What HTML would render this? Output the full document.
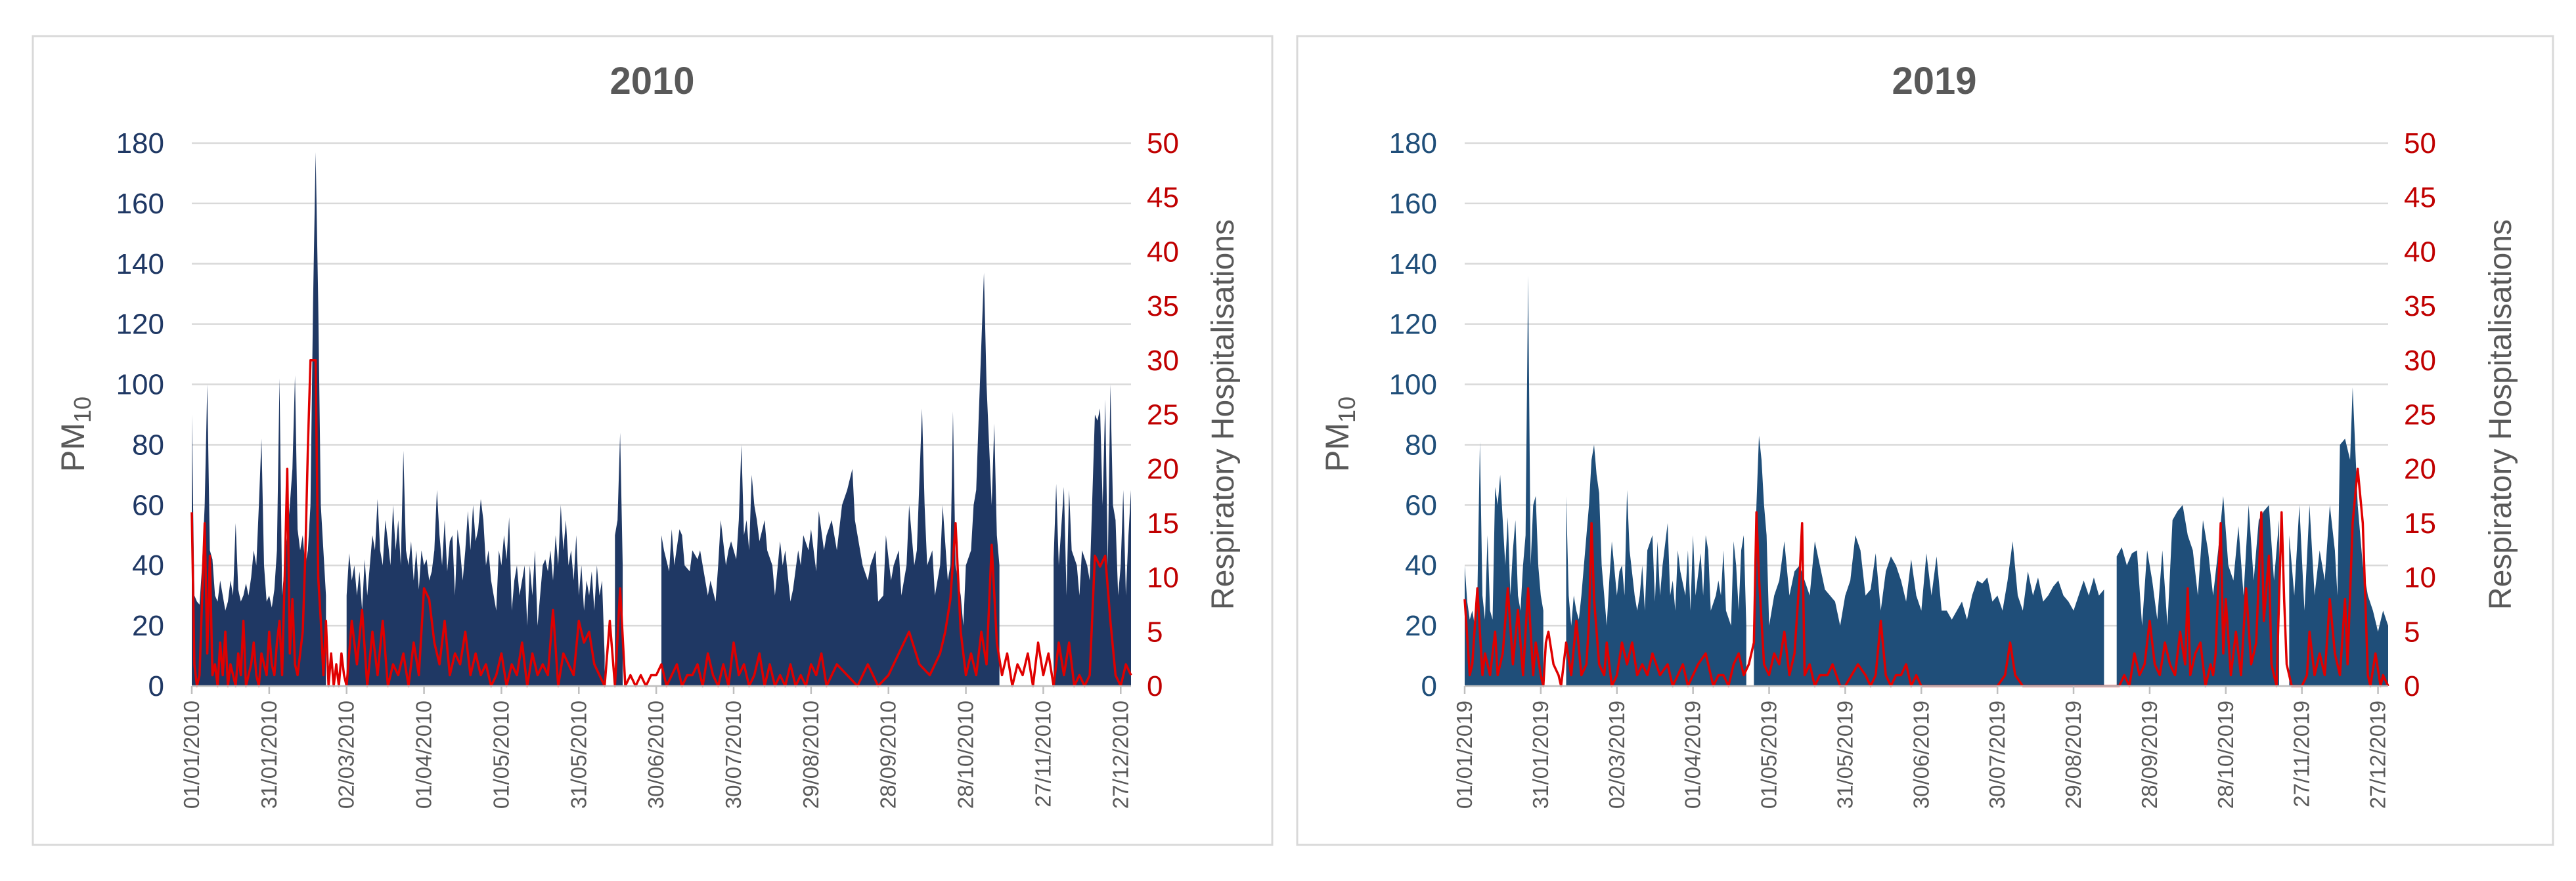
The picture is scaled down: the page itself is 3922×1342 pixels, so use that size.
<!DOCTYPE html>
<html><head><meta charset="utf-8"><style>
html,body{margin:0;padding:0;background:#fff;}
svg{display:block;font-family:"Liberation Sans",sans-serif;}
</style></head><body>
<svg id="s" width="3922" height="1342" viewBox="0 0 3922 1342" xmlns="http://www.w3.org/2000/svg">
<rect x="0" y="0" width="3922" height="1342" fill="#fff"/>
<rect x="50" y="55" width="1887" height="1232" fill="none" stroke="#d9d9d9" stroke-width="3"/>
<rect x="1975" y="55" width="1912" height="1232" fill="none" stroke="#d9d9d9" stroke-width="3"/>
<g id="p1"></g>
<g id="p2"></g>
</svg>
<script>
const dateLabels2010 = ["01/01/2010","31/01/2010","02/03/2010","01/04/2010","01/05/2010","31/05/2010","30/06/2010","30/07/2010","29/08/2010","28/09/2010","28/10/2010","27/11/2010","27/12/2010"];
const dateLabels2019 = ["01/01/2019","31/01/2019","02/03/2019","01/04/2019","01/05/2019","31/05/2019","30/06/2019","30/07/2019","29/08/2019","28/09/2019","28/10/2019","27/11/2019","27/12/2019"];
const dateTickDays = [0,30,60,90,120,150,180,210,240,270,300,330,360];
const leftTicks = [0,20,40,60,80,100,120,140,160,180];
const rightTicks = [0,5,10,15,20,25,30,35,40,45,50];

// [day of year, value]; null = missing data
const pm2010 = [[0,90],[1,30],[2,28],[3,27],[4,40],[5,60],[6,100],[7,45],[8,42],[9,30],[10,28],[11,35],[12,30],[13,25],[14,28],[15,35],[16,30],[17,54],[18,32],[19,28],[20,30],[21,34],[22,30],[23,36],[24,45],[25,40],[26,60],[27,82],[28,40],[29,28],[30,30],[31,26],[32,32],[33,45],[34,102],[35,30],[36,40],[37,50],[38,60],[39,72],[40,103],[41,52],[42,45],[43,50],[44,40],[45,45],[46,60],[47,127],[48,177],[49,127],[50,60],[51,45],[52,30],[53,null],[59,null],[60,30],[61,44],[62,35],[63,40],[64,30],[65,38],[66,25],[67,42],[68,30],[69,40],[70,50],[71,45],[72,62],[73,45],[74,40],[75,55],[76,48],[77,40],[78,60],[79,45],[80,55],[81,40],[82,78],[83,45],[84,40],[85,48],[86,35],[87,45],[88,32],[89,45],[90,40],[91,42],[92,35],[93,38],[94,45],[95,65],[96,50],[97,40],[98,55],[99,38],[100,48],[101,50],[102,30],[103,52],[104,45],[105,35],[106,45],[107,58],[108,45],[109,60],[110,48],[111,52],[112,62],[113,55],[114,40],[115,45],[116,35],[117,30],[118,25],[119,45],[120,40],[121,50],[122,42],[123,56],[124,25],[125,35],[126,40],[127,30],[128,35],[129,40],[130,20],[131,40],[132,30],[133,45],[134,20],[135,30],[136,40],[137,42],[138,38],[139,45],[140,35],[141,50],[142,40],[143,60],[144,45],[145,55],[146,40],[147,45],[148,35],[149,50],[150,30],[151,40],[152,25],[153,35],[154,30],[155,38],[156,25],[157,40],[158,30],[159,35],[160,10],[161,null],[163,null],[164,50],[165,55],[166,84],[167,40],[168,null],[181,null],[182,50],[183,45],[185,38],[186,52],[187,40],[189,52],[190,50],[191,40],[193,38],[194,45],[196,42],[197,45],[198,40],[200,30],[201,35],[203,28],[204,40],[205,55],[207,40],[208,45],[209,48],[211,42],[212,55],[213,80],[214,50],[215,55],[216,45],[217,70],[218,60],[219,55],[220,48],[222,55],[223,45],[225,40],[226,30],[228,48],[229,40],[230,45],[232,28],[233,32],[235,45],[236,40],[237,50],[239,45],[240,52],[242,38],[243,58],[245,45],[246,50],[248,55],[250,45],[252,60],[254,65],[256,72],[257,55],[259,45],[260,40],[262,35],[263,40],[265,45],[266,28],[268,30],[269,50],[271,35],[272,40],[274,45],[275,30],[277,40],[278,60],[280,40],[281,45],[283,92],[284,60],[285,40],[287,45],[288,30],[290,40],[291,60],[293,35],[294,40],[295,91],[296,40],[298,30],[299,20],[300,40],[302,45],[303,60],[304,65],[305,90],[307,137],[308,100],[309,80],[310,60],[311,87],[312,50],[313,40],[314,null],[333,null],[334,42],[335,67],[336,40],[338,66],[339,30],[340,65],[341,45],[343,40],[344,30],[345,45],[347,40],[348,35],[350,90],[351,88],[352,92],[353,60],[354,95],[355,40],[356,100],[357,60],[358,55],[359,30],[360,40],[361,65],[362,30],[363,50],[364,65]];
const hosp2010 = [[0,16],[1,2],[2,0],[3,1],[4,8],[5,15],[6,3],[7,12],[8,1],[9,2],[10,0],[11,4],[12,1],[13,5],[14,0],[15,2],[16,1],[17,0],[18,3],[19,1],[20,6],[21,0],[22,1],[23,2],[24,4],[25,1],[26,0],[27,3],[28,2],[29,1],[30,5],[31,2],[32,1],[33,4],[34,6],[35,1],[36,10],[37,20],[38,3],[39,8],[40,2],[41,1],[42,3],[43,5],[44,12],[45,22],[46,30],[47,30],[48,30],[49,10],[50,6],[51,1],[52,6],[53,0],[54,3],[55,0],[56,2],[57,0],[58,3],[59,1],[60,0],[62,6],[64,2],[66,7],[68,0],[70,5],[72,1],[74,6],[76,0],[78,2],[80,1],[82,3],[84,0],[86,4],[88,1],[90,9],[92,8],[94,4],[96,2],[98,6],[100,1],[102,3],[104,2],[106,5],[108,1],[110,3],[112,1],[114,2],[116,0],[118,1],[120,3],[122,0],[124,2],[126,1],[128,4],[130,0],[132,3],[134,1],[136,2],[138,1],[140,7],[142,0],[144,3],[146,2],[148,1],[150,6],[152,4],[154,5],[156,2],[158,1],[160,0],[162,6],[164,0],[166,9],[168,0],[170,1],[172,0],[174,1],[176,0],[178,1],[180,1],[182,2],[184,0],[186,1],[188,2],[190,0],[192,1],[194,1],[196,2],[198,0],[200,3],[202,1],[204,0],[206,2],[208,0],[210,4],[212,1],[214,2],[216,0],[218,1],[220,3],[222,0],[224,2],[226,0],[228,1],[230,0],[232,2],[234,0],[236,1],[238,0],[240,2],[242,1],[244,3],[246,0],[248,1],[250,2],[254,1],[258,0],[262,2],[266,0],[270,1],[274,3],[278,5],[282,2],[286,1],[290,3],[292,5],[294,8],[296,15],[298,5],[300,1],[302,3],[304,1],[306,5],[308,2],[310,13],[312,4],[314,1],[316,3],[318,0],[320,2],[322,1],[324,3],[326,0],[328,4],[330,1],[332,3],[334,0],[336,4],[338,1],[340,4],[342,0],[344,1],[346,0],[348,1],[350,12],[352,11],[354,12],[356,6],[358,1],[360,0],[362,2],[364,1]];

const pm2019 = [[0,40],[1,28],[2,22],[3,25],[4,20],[5,30],[6,81],[7,30],[8,22],[9,50],[10,25],[11,22],[12,66],[13,60],[14,70],[15,55],[16,40],[17,56],[18,30],[19,45],[20,55],[21,30],[22,25],[23,40],[24,50],[25,136],[26,40],[27,60],[28,63],[29,40],[30,30],[31,25],[32,null],[39,null],[40,63],[41,30],[42,20],[43,30],[44,25],[45,22],[46,30],[48,50],[49,60],[50,75],[51,80],[52,70],[53,64],[54,40],[55,30],[56,20],[57,35],[58,48],[60,30],[61,38],[62,40],[63,30],[64,65],[65,45],[67,30],[68,25],[69,30],[70,40],[71,25],[72,45],[74,50],[75,28],[76,48],[77,30],[78,40],[80,54],[81,30],[82,35],[83,25],[84,45],[85,38],[87,30],[88,45],[89,25],[90,50],[91,30],[93,44],[94,30],[95,50],[96,45],[97,25],[99,30],[100,35],[101,30],[102,45],[103,25],[105,20],[106,48],[107,40],[108,25],[109,45],[110,50],[111,20],[112,null],[113,null],[114,30],[115,60],[116,83],[117,75],[118,60],[119,50],[120,20],[122,30],[124,35],[126,48],[128,30],[130,38],[132,40],[134,35],[136,30],[138,48],[140,40],[142,32],[144,30],[146,28],[148,20],[150,30],[152,35],[154,50],[156,45],[158,30],[160,32],[162,44],[164,25],[166,38],[168,43],[170,40],[172,35],[174,28],[176,42],[178,30],[180,25],[182,44],[184,30],[186,43],[188,25],[190,25],[192,22],[194,25],[196,28],[198,22],[200,30],[202,35],[204,34],[206,36],[208,28],[210,30],[212,25],[214,35],[216,48],[218,30],[220,25],[222,38],[224,30],[226,36],[228,28],[230,30],[232,33],[234,35],[236,30],[238,28],[240,25],[242,30],[244,35],[246,30],[248,36],[250,30],[252,32],[254,null],[256,null],[257,43],[259,46],[261,40],[263,44],[265,45],[267,20],[269,45],[271,35],[273,22],[275,45],[277,20],[279,55],[281,58],[283,60],[285,50],[287,45],[289,30],[291,55],[293,45],[295,30],[297,45],[299,63],[301,40],[303,35],[305,53],[307,30],[309,60],[311,35],[313,55],[315,58],[317,60],[319,35],[321,55],[322,null],[324,null],[325,50],[327,30],[329,60],[331,25],[333,60],[335,30],[337,45],[339,35],[341,60],[343,45],[344,30],[345,80],[347,82],[349,75],[350,99],[352,60],[354,40],[356,30],[358,25],[360,18],[362,25],[364,20]];
const hosp2019 = [[0,8],[2,1],[3,2],[5,9],[7,1],[8,3],[10,1],[12,5],[13,1],[15,3],[17,9],[19,2],[21,7],[23,1],[25,9],[27,1],[28,4],[30,1],[31,0],[32,4],[33,5],[35,2],[37,1],[38,0],[40,4],[42,1],[44,6],[46,1],[48,2],[49,6],[50,15],[51,8],[53,2],[55,1],[56,4],[58,0],[60,1],[62,4],[64,2],[66,4],[68,1],[70,2],[72,1],[74,3],[77,1],[80,2],[82,0],[84,1],[86,2],[88,0],[90,1],[92,2],[95,3],[98,0],[100,1],[102,1],[104,0],[106,2],[108,3],[110,1],[112,2],[114,4],[115,16],[116,10],[118,2],[120,1],[122,3],[124,2],[126,5],[128,1],[130,3],[132,10],[133,15],[134,1],[136,2],[138,0],[140,1],[143,1],[145,2],[148,0],[150,0],[155,2],[158,1],[160,0],[162,1],[164,6],[166,1],[168,0],[170,1],[172,1],[174,2],[176,0],[178,1],[180,0],[185,0],[190,0],[195,0],[200,0],[205,0],[210,0],[213,1],[215,4],[217,1],[220,0],[230,0],[240,0],[250,0],[255,0],[258,0],[260,1],[262,0],[264,3],[266,1],[268,2],[270,6],[272,2],[274,1],[276,4],[278,2],[280,1],[282,5],[284,2],[285,9],[286,1],[288,3],[290,4],[292,0],[294,2],[295,1],[296,3],[298,15],[299,3],[300,8],[302,1],[304,5],[306,1],[308,9],[310,2],[312,4],[314,16],[315,6],[317,12],[318,2],[320,0],[322,16],[323,8],[324,2],[326,0],[328,0],[330,0],[332,1],[333,5],[335,1],[337,3],[339,1],[341,8],[343,3],[345,1],[347,8],[348,2],[350,15],[352,20],[354,15],[356,1],[357,0],[359,3],[361,0],[362,1],[364,0]];

const NS = "http://www.w3.org/2000/svg";
function mk(parent, tag, attrs, txt){
  const e = document.createElementNS(NS, tag);
  for (const k in attrs) e.setAttribute(k, attrs[k]);
  if (txt !== undefined) e.textContent = txt;
  parent.appendChild(e);
  return e;
}

function drawPanel(g, c, pm, hosp, dLabels){
  const xS = d => c.left + d / 364 * (c.right - c.left);
  const yL = v => c.bottom - v / 180 * (c.bottom - c.top);
  const yR = v => c.bottom - v / 50 * (c.bottom - c.top);

  const t = mk(g, "text", {x: c.titleX, y: 143, "font-size": 58, "font-weight": "bold", fill: "#595959", "text-anchor": "middle"}, c.title);
  
  

  leftTicks.forEach(v => {
    const gl = mk(g, "line", {x1: c.left, x2: c.right, y1: yL(v), y2: yL(v), stroke: "#d9d9d9", "stroke-width": 2.5});
    
    
    const tl = mk(g, "text", {x: c.left - 42, y: yL(v) + 15, "font-size": 44, fill: c.leftColor, "text-anchor": "end"}, String(v));
    
    
  });
  rightTicks.forEach(v => {
    const tr = mk(g, "text", {x: c.right + 24, y: yR(v) + 15, "font-size": 44, fill: "#c00000", "text-anchor": "start"}, String(v));
    
    
  });

  let d = "", open = false, lastX = 0;
  for (const [day, v] of pm) {
    const x = xS(day);
    if (v === null) {
      if (open) { d += " L" + lastX + "," + c.bottom + " Z"; open = false; }
      continue;
    }
    const y = yL(v);
    if (!open) { d += " M" + x + "," + c.bottom + " L" + x + "," + y; open = true; }
    else d += " L" + x + "," + y;
    lastX = x;
  }
  if (open) d += " L" + lastX + "," + c.bottom + " Z";
  const area = mk(g, "path", {d: d, fill: c.areaColor});
  
  

  const pts = hosp.map(p => xS(p[0]) + "," + yR(p[1])).join(" ");
  const ln = mk(g, "polyline", {points: pts, fill: "none", stroke: "#e00000", "stroke-width": 3.5, "stroke-linejoin": "round"});
  
  

  const ax = mk(g, "line", {x1: c.left, x2: c.right, y1: c.bottom, y2: c.bottom, stroke: "#bfbfbf", "stroke-width": 2.5});
  
  
  dateTickDays.forEach((dd, i) => {
    const x = xS(dd);
    const tk = mk(g, "line", {x1: x, x2: x, y1: c.bottom, y2: c.bottom + 12, stroke: "#bfbfbf", "stroke-width": 2.5});
    
    
    const lb = mk(g, "text", {x: 0, y: 0, "font-size": 33, fill: "#595959", "text-anchor": "end", transform: "translate(" + (x + 11) + "," + (c.bottom + 22) + ") rotate(-90)"}, dLabels[i]);
    
    
  });

  const lt = mk(g, "text", {x: 0, y: 0, "font-size": 50, fill: "#595959", "text-anchor": "middle", transform: "translate(" + c.leftTitleX + "," + ((c.top + c.bottom) / 2 + 30) + ") rotate(-90)"});
  
  
  mk(lt, "tspan", {}, "PM");
  mk(lt, "tspan", {"font-size": 36, dy: 10}, "10");
  const rt = mk(g, "text", {x: 0, y: 0, "font-size": 48, fill: "#595959", "text-anchor": "middle", transform: "translate(" + c.rightTitleX + "," + ((c.top + c.bottom) / 2) + ") rotate(-90)"}, "Respiratory Hospitalisations");
  
  
}

drawPanel(document.getElementById("p1"),
  {left: 292, right: 1722, top: 218, bottom: 1045, title: "2010", titleX: 993, leftColor: "#1f3864", areaColor: "#1f3864", leftTitleX: 128, rightTitleX: 1878},
  pm2010, hosp2010, dateLabels2010);
drawPanel(document.getElementById("p2"),
  {left: 2230, right: 3636, top: 218, bottom: 1045, title: "2019", titleX: 2945, leftColor: "#1f4e79", areaColor: "#1f4e79", leftTitleX: 2053, rightTitleX: 3823},
  pm2019, hosp2019, dateLabels2019);
</script>
</body></html>
